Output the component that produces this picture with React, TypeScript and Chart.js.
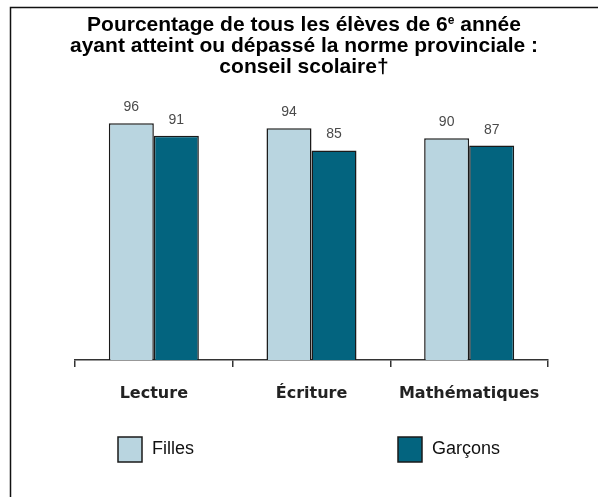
import React, { useEffect, useRef } from "react";
import { Chart, registerables } from "chart.js";

Chart.register(...registerables);

const categories = ["Lecture", "Écriture", "Mathématiques"];
const seriesNames = ["Filles", "Garçons"];
const fillesValues = [96, 94, 90];
const garconsValues = [91, 85, 87];
const seriesColors = ["#b9d5e0", "#03647f"];
const titleLines: { t: string; sup?: boolean }[][] = [
  [{ t: "Pourcentage de tous les élèves de 6" }, { t: "e", sup: true }, { t: " année" }],
  [{ t: "ayant atteint ou dépassé la norme provinciale :" }],
  [{ t: "conseil scolaire†" }],
];

const TITLE_FONT = "bold 21px 'Liberation Sans', Arial, sans-serif";
const SUP_FONT = "bold 12px 'Liberation Sans', Arial, sans-serif";

const framePlugin = {
  id: "frame",
  beforeDraw(chart: any) {
    const ctx = chart.ctx;
    ctx.save();
    ctx.fillStyle = "#ffffff";
    ctx.fillRect(0, 0, chart.width, chart.height);
    ctx.strokeStyle = "#111111";
    ctx.lineWidth = 1.5;
    ctx.beginPath();
    ctx.moveTo(10.5, chart.height);
    ctx.lineTo(10.5, 7.5);
    ctx.lineTo(598, 7.5);
    ctx.stroke();
    ctx.restore();
  },
};

const titlePlugin = {
  id: "richTitle",
  afterDraw(chart: any) {
    const ctx = chart.ctx;
    ctx.save();
    ctx.fillStyle = "#000000";
    ctx.textBaseline = "alphabetic";
    const cx = 304;
    const baselines = [31, 52, 73];
    titleLines.forEach((line, i) => {
      let w = 0;
      line.forEach((seg) => {
        ctx.font = seg.sup ? SUP_FONT : TITLE_FONT;
        w += ctx.measureText(seg.t).width;
      });
      let x = cx - w / 2;
      line.forEach((seg) => {
        ctx.font = seg.sup ? SUP_FONT : TITLE_FONT;
        ctx.textAlign = "left";
        ctx.fillText(seg.t, x, baselines[i] - (seg.sup ? 7 : 0));
        x += ctx.measureText(seg.t).width;
      });
    });
    ctx.restore();
  },
};

const valueLabelPlugin = {
  id: "valueLabels",
  afterDatasetsDraw(chart: any) {
    const ctx = chart.ctx;
    ctx.save();
    ctx.font = "14px 'Liberation Sans', Arial, sans-serif";
    ctx.fillStyle = "#4a4a4a";
    ctx.textAlign = "center";
    ctx.textBaseline = "alphabetic";
    chart.data.datasets.forEach((ds: any, di: number) => {
      const meta = chart.getDatasetMeta(di);
      meta.data.forEach((el: any, i: number) => {
        ctx.fillText(String(ds.data[i]), el.x, el.y - 12);
      });
    });
    ctx.restore();
  },
};

const legendPlugin = {
  id: "customLegend",
  afterDraw(chart: any) {
    const ctx = chart.ctx;
    const area = chart.chartArea;
    ctx.save();
    chart.data.datasets.forEach((ds: any, i: number) => {
      const bx = area.left + 43 + i * 280;
      const by = 437;
      ctx.fillStyle = ds.backgroundColor;
      ctx.fillRect(bx, by, 24, 25);
      ctx.strokeStyle = "#1a1a1a";
      ctx.lineWidth = 1.5;
      ctx.strokeRect(bx, by, 24, 25);
      ctx.fillStyle = "#111111";
      ctx.font = "18px 'Liberation Sans', Arial, sans-serif";
      ctx.textAlign = "left";
      ctx.textBaseline = "middle";
      ctx.fillText(ds.label, bx + 34, by + 12);
    });
    ctx.restore();
  },
};

export default function App() {
  const ref = useRef<HTMLCanvasElement | null>(null);
  useEffect(() => {
    if (!ref.current) return;
    const chart = new Chart(ref.current, {
      type: "bar",
      data: {
        labels: categories,
        datasets: [
          {
            label: seriesNames[0],
            data: fillesValues,
            backgroundColor: seriesColors[0],
            borderColor: "#1a1a1a",
            borderWidth: 1.5,
            categoryPercentage: 0.571,
            barPercentage: 1,
          },
          {
            label: seriesNames[1],
            data: garconsValues,
            backgroundColor: seriesColors[1],
            borderColor: "#1a1a1a",
            borderWidth: 1.5,
            categoryPercentage: 0.571,
            barPercentage: 1,
          },
        ],
      },
      options: {
        responsive: false,
        animation: false,
        devicePixelRatio: 1,
        layout: { padding: { left: 75, right: 52, top: 113.5, bottom: 76.8 } },
        plugins: {
          legend: { display: false },
          title: { display: false },
          tooltip: { enabled: false },
        },
        scales: {
          y: { display: false, min: 0, max: 100 },
          x: {
            grid: {
              display: true,
              drawOnChartArea: false,
              drawTicks: true,
              tickLength: 7,
              color: "#333333",
              lineWidth: 1.5,
              offset: true,
            },
            border: { display: true, color: "#333333", width: 1.5 },
            ticks: {
              color: "#222222",
              padding: 17,
              font: { family: "'DejaVu Sans', sans-serif", size: 16, weight: "bold" },
            },
          },
        },
      },
      plugins: [framePlugin, titlePlugin, valueLabelPlugin, legendPlugin],
    });
    return () => chart.destroy();
  }, []);
  return (
    <div style={{ position: "absolute", left: 0, top: 0, width: 600, height: 497 }}>
      <canvas ref={ref} width={600} height={497} />
    </div>
  );
}
